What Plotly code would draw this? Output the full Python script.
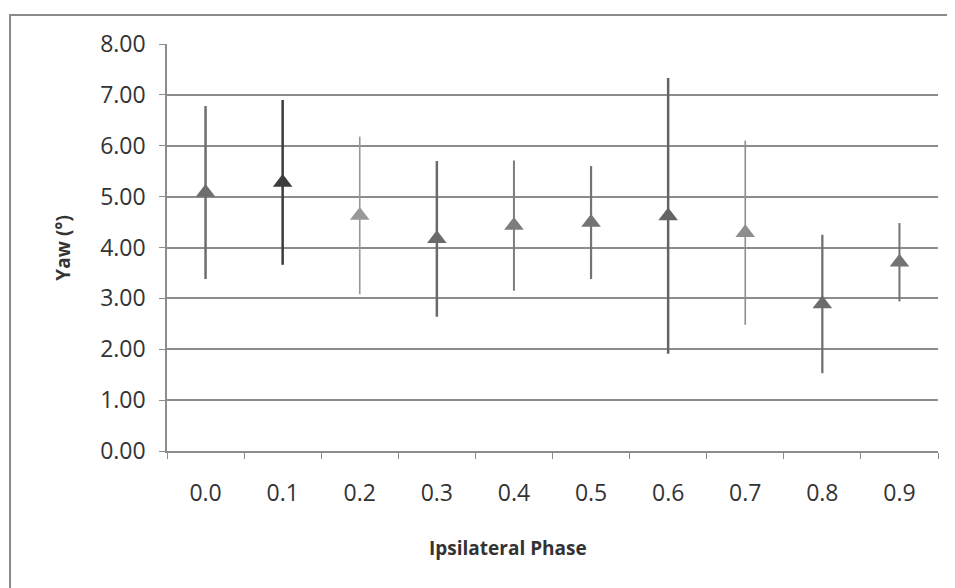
import plotly.graph_objects as go

categories = ["0.0", "0.1", "0.2", "0.3", "0.4", "0.5", "0.6", "0.7", "0.8", "0.9"]
yaw_mean = [5.08, 5.28, 4.63, 4.17, 4.43, 4.49, 4.62, 4.29, 2.89, 3.71]
yaw_err = [1.70, 1.62, 1.55, 1.53, 1.28, 1.11, 2.71, 1.81, 1.36, 0.77]
y_ticks = [0, 1, 2, 3, 4, 5, 6, 7, 8]
y_tick_labels = ["0.00", "1.00", "2.00", "3.00", "4.00", "5.00", "6.00", "7.00", "8.00"]

point_colors = ["#6e6e6e", "#3c3c3c", "#989898", "#6a6a6a", "#7d7d7d",
                "#747474", "#646464", "#8e8e8e", "#6c6c6c", "#737373"]
bar_widths = [2.5, 2.5, 1.6, 2.5, 2.0, 2.2, 2.5, 1.6, 2.2, 2.0]

fig = go.Figure()
for cat, m, e, c, w in zip(categories, yaw_mean, yaw_err, point_colors, bar_widths):
    fig.add_trace(go.Scatter(
        x=[cat], y=[m], mode="markers",
        marker=dict(symbol="triangle-up", size=17, color=c, line=dict(width=0)),
        error_y=dict(type="data", array=[e], visible=True, color=c, thickness=w, width=0),
        showlegend=False,
    ))

txt = "#333333"
fig.update_layout(
    width=955, height=588,
    margin=dict(l=159, r=25, t=36, b=145),
    paper_bgcolor="white", plot_bgcolor="white",
    font=dict(family="Open Sans", color=txt),
    xaxis=dict(
        type="category", categoryorder="array", categoryarray=categories,
        showgrid=False, showline=True, linecolor="#8c8c8c", linewidth=1.5,
        ticks="outside", tickson="boundaries", ticklen=6, tickcolor="#8c8c8c",
        tickfont=dict(size=23, color=txt), ticklabelstandoff=21,
        zeroline=False, range=[-0.5, 9.5],
    ),
    yaxis=dict(
        range=[0, 8], tickvals=y_ticks, ticktext=y_tick_labels,
        showgrid=True, gridcolor="#8c8c8c", gridwidth=1.5,
        showline=True, linecolor="#8c8c8c", linewidth=1.5,
        ticks="outside", ticklen=6, tickcolor="#8c8c8c",
        tickfont=dict(size=23, color=txt), ticklabelstandoff=9,
        zeroline=False,
    ),
    annotations=[
        dict(text="<b>Ipsilateral Phase</b>", xref="paper", yref="paper",
             x=0.442, y=-0.238, xanchor="center", yanchor="middle",
             showarrow=False, font=dict(size=19, color=txt)),
        dict(text="<b>Yaw (°)</b>", xref="paper", yref="paper",
             x=-0.136, y=0.5, xanchor="center", yanchor="middle", textangle=-90,
             showarrow=False, font=dict(size=19, color=txt)),
    ],
    shapes=[dict(type="rect", xref="paper", yref="paper",
                 x0=-0.2036, x1=1.03, y0=-0.37, y1=1.0713,
                 line=dict(color="#8a8a8a", width=2), fillcolor="rgba(0,0,0,0)", layer="below")],
)

fig.write_html("out.html")
